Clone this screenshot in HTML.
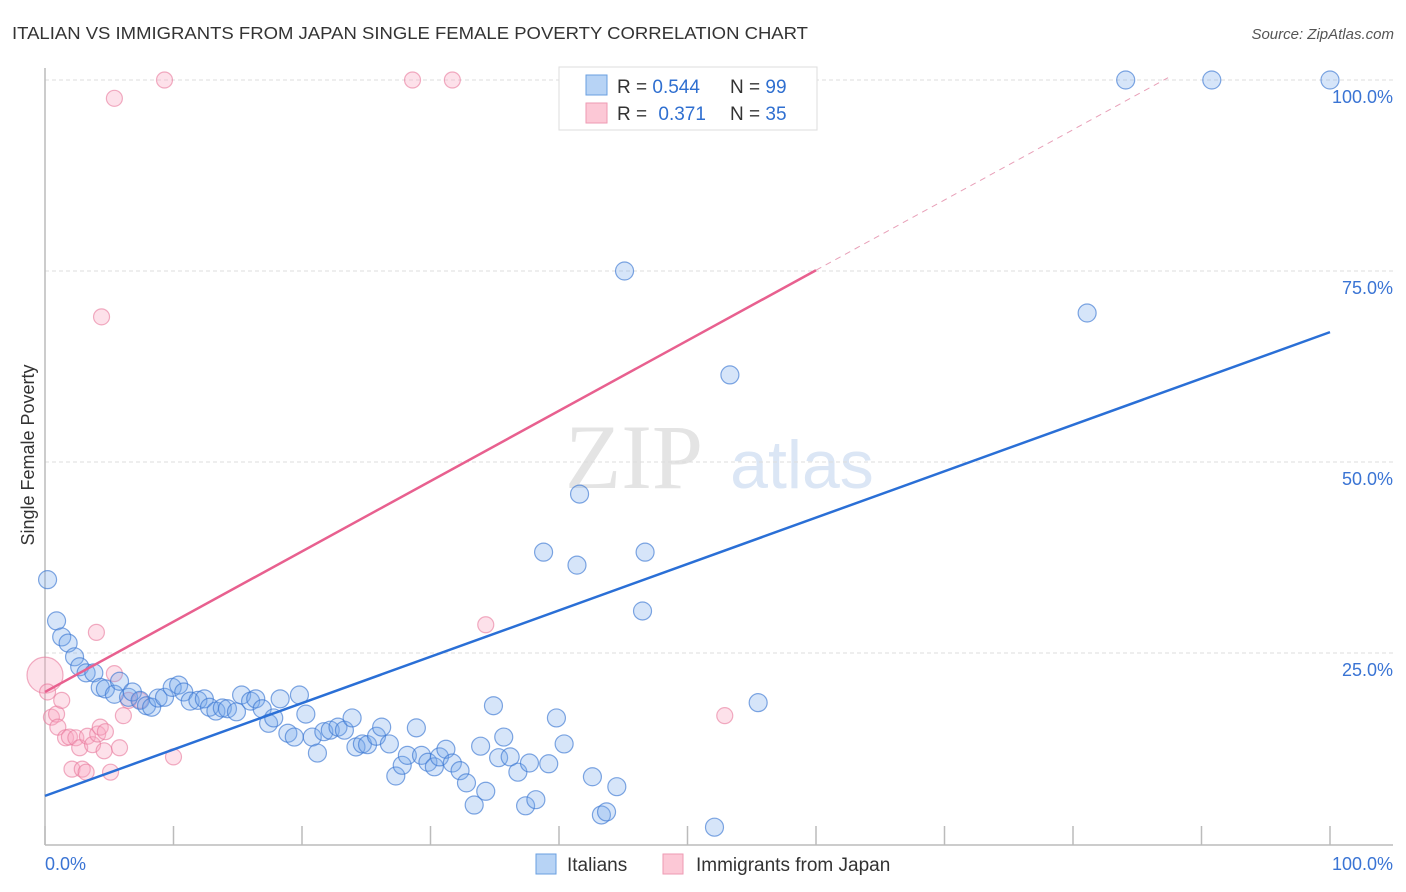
<!DOCTYPE html>
<html><head><meta charset="utf-8">
<style>
body{margin:0;background:#fff;}
svg{display:block;font-family:"Liberation Sans",sans-serif;}
</style></head>
<body>
<svg id="chart" width="1406" height="892" viewBox="0 0 1406 892">
  <text x="12" y="39" font-size="17.5" fill="#333" textLength="796" lengthAdjust="spacingAndGlyphs">ITALIAN VS IMMIGRANTS FROM JAPAN SINGLE FEMALE POVERTY CORRELATION CHART</text>
  <text x="1394" y="39" font-size="15" fill="#555" font-style="italic" text-anchor="end">Source: ZipAtlas.com</text>
  <g>
    <text x="634" y="488" font-family="Liberation Serif,serif" font-size="92" fill="#e4e4e4" text-anchor="middle">ZIP</text>
    <text x="802" y="488" font-size="68" fill="#dbe6f5" text-anchor="middle">atlas</text>
  </g>
  <g id="grid"></g>
  <g id="axes"></g>
  <g id="marks"></g>
  <text transform="translate(34,455) rotate(-90)" font-size="18" fill="#333" text-anchor="middle">Single Female Poverty</text>
  <g>
    <rect x="559" y="67" width="258" height="63" fill="#fff" stroke="#ddd"/>
    <rect x="586" y="75" width="21" height="20" fill="#b7d3f5" stroke="#6a9fe0"/>
    <rect x="586" y="103" width="21" height="20" fill="#fcc8d6" stroke="#ee9ab3"/>
    <text x="617" y="93" font-size="19" fill="#333">R = <tspan fill="#2f6fd0">0.544</tspan></text>
    <text x="730" y="93" font-size="19" fill="#333">N = <tspan fill="#2f6fd0">99</tspan></text>
    <text x="617" y="120" font-size="19" fill="#333">R = <tspan fill="#2f6fd0" dx="6">0.371</tspan></text>
    <text x="730" y="120" font-size="19" fill="#333">N = <tspan fill="#2f6fd0">35</tspan></text>
  </g>
  <g>
    <rect x="536" y="854" width="20" height="20" fill="#b7d3f5" stroke="#6a9fe0"/>
    <text x="567" y="871" font-size="19" fill="#333">Italians</text>
    <rect x="663" y="854" width="20" height="20" fill="#fcc8d6" stroke="#ee9ab3"/>
    <text x="696" y="871" font-size="19" fill="#333">Immigrants from Japan</text>
  </g>
</svg>
<script>
const blueX=[0.2,0.9,1.3,1.8,2.3,2.7,3.2,3.8,4.3,4.7,5.4,5.8,6.5,6.8,7.4,7.9,8.3,8.8,9.3,9.9,10.4,10.8,11.3,11.9,12.4,12.8,13.3,13.8,14.2,14.9,15.3,16.0,16.4,16.9,17.4,17.8,18.3,18.9,19.4,19.8,20.3,20.8,21.2,21.7,22.2,22.8,23.3,23.9,24.2,24.7,25.1,25.8,26.2,26.8,27.3,27.8,28.2,28.9,29.3,29.8,30.3,30.7,31.2,31.7,32.3,32.8,33.4,33.9,34.3,34.9,35.3,35.7,36.2,36.8,37.4,37.7,38.2,38.8,39.2,39.8,40.4,41.4,41.6,42.6,43.3,43.7,44.5,45.1,46.5,46.7,52.1,53.3,55.5,81.1,84.1,90.8,100,49.7];
const blueY=[34.6,29.2,27.1,26.3,24.5,23.2,22.4,22.4,20.5,20.3,19.6,21.3,19.2,19.9,18.8,18.1,17.9,19.1,19.2,20.5,20.8,19.9,18.7,18.8,19.0,17.9,17.4,17.8,17.7,17.3,19.5,18.7,19.0,17.7,15.8,16.5,19.0,14.5,14.0,19.5,17.0,14.0,11.9,14.7,14.9,15.3,14.9,16.5,12.7,13.1,13.0,14.1,15.3,13.1,8.9,10.3,11.6,15.2,11.6,10.7,10.1,11.4,12.4,10.6,9.6,8.0,5.1,12.8,6.9,18.1,11.3,14.0,11.4,9.4,5.0,10.6,5.8,38.2,10.5,16.5,13.1,36.5,45.8,8.8,3.8,4.2,7.5,75.0,30.5,38.2,2.2,61.4,18.5,69.5,100,100,100,100];
const pinkX=[0,0.2,0.5,0.9,1.0,1.3,1.6,1.9,2.1,2.4,2.7,2.9,3.2,3.3,3.7,4.0,4.1,4.3,4.6,4.7,5.1,5.4,5.4,5.8,6.1,6.5,7.4,4.4,9.3,10.0,28.6,31.7,34.3,52.9];
const pinkY=[22.1,19.9,16.6,17.0,15.3,18.8,13.9,14.0,9.8,13.9,12.6,9.8,9.4,14.1,13.0,27.7,14.4,15.3,12.2,14.7,9.4,97.6,22.3,12.6,16.8,18.8,18.8,69.0,100,11.4,100,100,28.7,16.8];
const blueTrend=[6.3,67.0];
const pinkTrend=[19.9,75.1,100.3];
const pinkTrendX=[0,60,87.4];
const yTicks=[25,50,75,100];
const yTickLabels=["25.0%","50.0%","75.0%","100.0%"];
const xTicks=[0,10,20,30,40,50,60,70,80,90,100];

const NS="http://www.w3.org/2000/svg";
const X=v=>45+v*12.85, Y=v=>844-v*7.64;
function mk(tag,attrs,parent){const e=document.createElementNS(NS,tag);for(const k in attrs)e.setAttribute(k,attrs[k]);parent.appendChild(e);return e;}
const grid=document.getElementById('grid'),axes=document.getElementById('axes'),marks=document.getElementById('marks');
yTicks.forEach((t,i)=>{
  const l=mk('line',{x1:45,x2:1393,y1:Y(t),y2:Y(t),stroke:'#ddd','stroke-dasharray':'4,3'},grid);
  
  
  const tx=mk('text',{x:1393,y:Y(t)+23,'font-size':18,fill:'#3a74d4','text-anchor':'end'},axes);
  tx.textContent=yTickLabels[i];
  
  
});
mk('line',{x1:45,x2:45,y1:68,y2:845,stroke:'#bbb','stroke-width':1.5},axes);
mk('line',{x1:45,x2:1393,y1:845,y2:845,stroke:'#bbb','stroke-width':1.5},axes);
xTicks.forEach(t=>{
  const l=mk('line',{x1:X(t),x2:X(t),y1:826,y2:845,stroke:'#bbb','stroke-width':1.5},axes);
  
  
});
const x0=mk('text',{x:45,y:870,'font-size':18,fill:'#3a74d4'},axes);x0.textContent='0.0%';


const x1=mk('text',{x:1393,y:870,'font-size':18,fill:'#3a74d4','text-anchor':'end'},axes);x1.textContent='100.0%';



pinkX.forEach((v,i)=>{
  const c=mk('circle',{cx:X(v),cy:Y(pinkY[i]),r:i===0?18:8,fill:'rgba(248,170,195,0.35)',stroke:'rgba(232,120,155,0.6)','stroke-width':1.2},marks);
  
  
});
blueX.forEach((v,i)=>{
  const c=mk('circle',{cx:X(v),cy:Y(blueY[i]),r:9,fill:'rgba(120,170,235,0.3)',stroke:'rgba(60,120,210,0.65)','stroke-width':1.2},marks);
  
  
});
const bl=mk('line',{x1:X(0),y1:Y(blueTrend[0]),x2:X(100),y2:Y(blueTrend[1]),stroke:'#2a6fd6','stroke-width':2.5},marks);


const pl=mk('line',{x1:X(pinkTrendX[0]),y1:Y(pinkTrend[0]),x2:X(pinkTrendX[1]),y2:Y(pinkTrend[1]),stroke:'#e8608f','stroke-width':2.5},marks);


const pd=mk('line',{x1:X(pinkTrendX[1]),y1:Y(pinkTrend[1]),x2:X(pinkTrendX[2]),y2:Y(pinkTrend[2]),stroke:'#e8a0b8','stroke-width':1,'stroke-dasharray':'6,5'},marks);


</script>
</body></html>
